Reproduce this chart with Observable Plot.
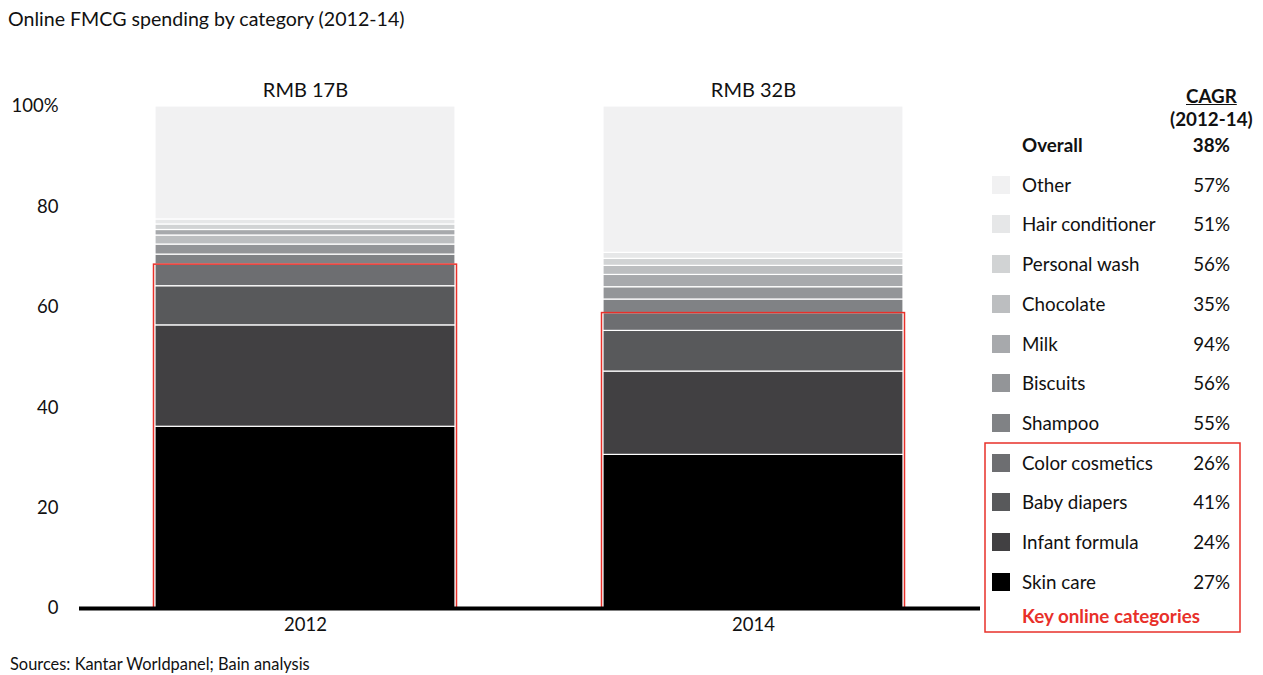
<!DOCTYPE html>
<html>
<head>
<meta charset="utf-8">
<script src="https://cdn.jsdelivr.net/npm/d3@7"></script>
<script src="https://cdn.jsdelivr.net/npm/@observablehq/plot@0.6"></script>
<style>
  body { margin: 0; background: #fff; font-family: Lato, "Open Sans", sans-serif; color: #111; }
  #wrap { position: relative; width: 1263px; height: 675px; overflow: hidden; }
  #title { position: absolute; left: 8px; top: 7px; font-size: 19.6px; }
  #source { position: absolute; left: 10px; top: 654px; font-size: 16.4px; }
  #chart { position: absolute; left: 0; top: 0; }
  .lg { position: absolute; font-size: 18.8px; line-height: 20px; white-space: nowrap; }
  .sw { position: absolute; width: 18px; height: 18px; }
  .val { position: absolute; font-size: 18.8px; line-height: 20px; text-align: right; width: 60px; }
  #keybox { position: absolute; left: 983px; top: 441px; }
</style>
</head>
<body>
<div id="wrap">
  <div id="title">Online FMCG spending by category (2012-14)</div>
  <div id="chart"></div>
  <div id="legend"></div>
  <div id="source">Sources: Kantar Worldpanel; Bain analysis</div>
</div>
<script>
// Years and total online FMCG spend shown above each bar
const years = ["2012", "2014"];
const totals = ["RMB 17B", "RMB 32B"];

// Categories from the bottom of the stack to the top
const categories = ["Skin care", "Infant formula", "Baby diapers", "Color cosmetics", "Shampoo",
  "Biscuits", "Milk", "Chocolate", "Personal wash", "Hair conditioner", "Other"];
const colors = ["#000000", "#414042", "#58595b", "#6d6e71", "#808285",
  "#939598", "#a7a9ac", "#bcbec0", "#d1d3d4", "#e6e7e8", "#f1f1f2"];
// CAGR 2012-14 per category
const cagr = ["27%", "24%", "41%", "26%", "55%", "56%", "94%", "35%", "56%", "51%", "57%"];
const overallCagr = "38%";
// Key online categories (outlined in red)
const keyCategories = ["Skin care", "Infant formula", "Baby diapers", "Color cosmetics"];

// Share of spending (%) in stacking order for each year
const order2012 = ["Skin care", "Infant formula", "Baby diapers", "Color cosmetics", "Shampoo",
  "Biscuits", "Chocolate", "Milk", "Personal wash", "Hair conditioner", "Other"];
const share2012 = [36.2, 20.2, 7.8, 4.3, 2.0, 2.0, 1.8, 1.1, 1.1, 1.0, 22.5];
const order2014 = ["Skin care", "Infant formula", "Baby diapers", "Color cosmetics", "Shampoo",
  "Biscuits", "Milk", "Chocolate", "Personal wash", "Hair conditioner", "Other"];
const share2014 = [30.6, 16.6, 8.1, 3.55, 2.7, 2.45, 2.45, 1.8, 1.4, 1.2, 29.15];

const rows = [
  ...order2012.map((c, i) => ({year: "2012", category: c, share: share2012[i]})),
  ...order2014.map((c, i) => ({year: "2014", category: c, share: share2014[i]}))
];
const keyTotals = years.map(y => ({
  year: y,
  share: d3.sum(rows.filter(r => r.year === y && keyCategories.includes(r.category)), r => r.share)
}));
const labels = years.map((y, i) => ({year: y, label: totals[i]}));

const font = "Lato, 'Open Sans', sans-serif";
const red = "#e8302a";

const chart = Plot.plot({
  width: 1263,
  height: 675,
  marginTop: 106,
  marginBottom: 67,
  marginLeft: 79,
  marginRight: 283,
  style: {fontFamily: font, fontSize: "18.5px", color: "#111", background: "transparent"},
  x: {domain: years, paddingInner: 0.33, paddingOuter: 0.17, label: null, tickSize: 0, tickPadding: 9,
      tickFormat: d => d},
  y: {domain: [0, 100], ticks: [0, 20, 40, 60, 80, 100], label: null, tickSize: 0, tickPadding: 21,
      tickFormat: d => d === 100 ? "100%" : String(d)},
  color: {domain: categories, range: colors},
  marks: [
    Plot.barY(rows, {x: "year", y: "share", fill: "category", stroke: "white", strokeWidth: 1.2, order: null}),
    Plot.barY(keyTotals, {x: "year", y: "share", fill: "none", stroke: red, strokeWidth: 1.5,
      insetLeft: -1.5, insetRight: -1.5}),
    Plot.ruleY([0], {stroke: "#000", strokeWidth: 4}),
    Plot.text(labels, {x: "year", y: 100, text: "label", dy: -16, fontSize: 20, fill: "#111"})
  ]
});
document.getElementById("chart").appendChild(chart);

// Legend with CAGR column, top row = top of the stack
const legend = document.getElementById("legend");
function add(cls, text, left, top, style = {}) {
  const el = document.createElement("div");
  el.className = cls;
  el.textContent = text;
  el.style.left = left + "px";
  el.style.top = top + "px";
  Object.assign(el.style, style);
  legend.appendChild(el);
  return el;
}
add("lg", "CAGR", 1186, 86, {fontWeight: "bold", textDecoration: "underline"});
add("lg", "(2012-14)", 1170, 109, {fontWeight: "bold"});
const rowGap = 39.7, firstRow = 145;
add("lg", "Overall", 1022, firstRow - 10, {fontWeight: "bold"});
add("val", overallCagr, 1170, firstRow - 10, {fontWeight: "bold"});
const legendOrder = ["Other", "Hair conditioner", "Personal wash", "Chocolate", "Milk", "Biscuits",
  "Shampoo", "Color cosmetics", "Baby diapers", "Infant formula", "Skin care"];
legendOrder.forEach((c, i) => {
  const k = categories.indexOf(c);
  const cy = firstRow + (i + 1) * rowGap;
  const sw = add("sw", "", 992, cy - 9);
  sw.style.background = colors[k];
  add("lg", c, 1022, cy - 10);
  add("val", cagr[k], 1170, cy - 10);
});
// Red frame around the key online categories
const box = d3.create("svg").attr("id", "keybox").attr("width", 260).attr("height", 194);
box.append("rect").attr("x", 2).attr("y", 2).attr("width", 255).attr("height", 189)
  .attr("fill", "none").attr("stroke", red).attr("stroke-width", 1.5);
legend.appendChild(box.node());
add("lg", "Key online categories", 1022, 606, {fontWeight: "bold", color: red});
</script>
</body>
</html>
